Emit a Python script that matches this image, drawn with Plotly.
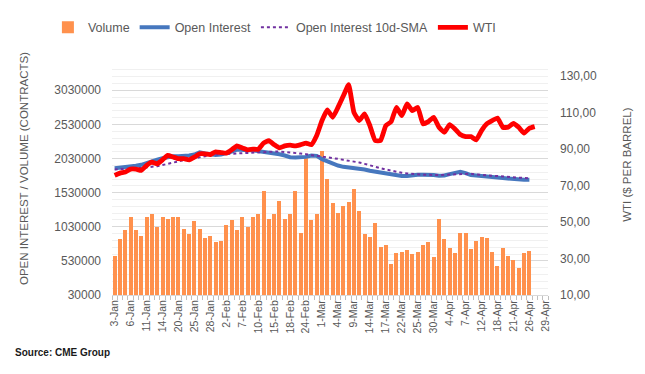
import plotly.graph_objects as go

dates = (
    [f"{d}-Jan" for d in [3, 4, 5, 6, 7, 10, 11, 12, 13, 14, 18, 19, 20, 21, 24, 25, 26, 27, 28, 31]]
    + [f"{d}-Feb" for d in [1, 2, 3, 4, 7, 8, 9, 10, 11, 14, 15, 16, 17, 18, 22, 23, 24, 25, 28]]
    + [f"{d}-Mar" for d in [1, 2, 3, 4, 7, 8, 9, 10, 11, 14, 15, 16, 17, 18, 21, 22, 23, 24, 25, 28, 29, 30, 31]]
    + [f"{d}-Apr" for d in [1, 4, 5, 6, 7, 8, 11, 12, 13, 14, 18, 19, 20, 21, 22, 25, 26, 27, 28, 29]]
)

volume_k = [598, 845, 976, 1166, 976, 889, 1166, 1210, 1030, 1166,
            1146, 1166, 1180, 991, 918, 1108, 1001, 870, 889, 802,
            816, 1049, 1122, 976, 1180, 1030, 1166, 1224, 1559, 1151,
            1210, 1413, 1137, 1224, 1559, 933, 2054, 1122, 1224, 2141,
            1734, 1384, 1239, 1341, 1399, 1588, 1268, 918, 875, 1078,
            729, 758, 481, 642, 656, 685, 627, 656, 758, 802,
            583, 1137, 845, 714, 642, 933, 933, 700, 816, 875,
            860, 656, 452, 714, 598, 540, 423, 642, 671]

open_interest_k = [1889, 1894, 1904, 1918, 1923, 1938, 1967, 1996, 2015, 2035,
                   2054, 2064, 2064, 2064, 2074, 2088, 2122, 2103, 2093, 2083,
                   2088, 2103, 2132, 2161, 2151, 2151, 2151, 2142, 2132, 2117,
                   2103, 2093, 2074, 2049, 2044, 2044, 2054, 2074, 2069, 2020,
                   1986, 1950, 1928, 1908, 1899, 1879, 1884, 1870, 1850, 1836,
                   1821, 1802, 1787, 1777, 1773, 1773, 1787, 1792, 1792, 1792,
                   1787, 1777, 1782, 1802, 1821, 1836, 1816, 1787, 1782, 1777,
                   1773, 1763, 1753, 1743, 1734, 1724, 1719, 1719, 1719]

oi_sma_k = [1870, 1872, 1876, 1882, 1888, 1893, 1898, 1905, 1918, 1935,
            1955, 1972, 1992, 2006, 2018, 2035, 2052, 2066, 2078, 2088,
            2093, 2098, 2103, 2108, 2112, 2117, 2122, 2127, 2132, 2132,
            2132, 2132, 2127, 2122, 2112, 2103, 2093, 2083, 2074, 2064,
            2054, 2040, 2025, 2011, 2001, 1986, 1972, 1952, 1928, 1908,
            1889, 1870, 1850, 1836, 1821, 1812, 1802, 1797, 1792, 1792,
            1787, 1787, 1792, 1797, 1802, 1807, 1812, 1807, 1797, 1787,
            1782, 1777, 1773, 1768, 1763, 1758, 1748, 1743, 1739]

wti = [75.5, 76.7, 77.3, 78.9, 78.9, 78.2, 80.9, 82.7, 81.8, 84.0,
       86.4, 85.5, 84.6, 84.6, 84.0, 85.5, 87.3, 87.3, 86.9, 88.4,
       88.0, 87.7, 89.5, 91.6, 90.5, 89.5, 89.8, 89.8, 93.1, 94.5,
       92.3, 90.5, 91.6, 92.0, 91.6, 92.3, 93.1, 92.3, 97.3, 105.5,
       111.3, 107.3, 112.7, 118.9, 125.1, 110.0, 105.5, 109.1, 102.7, 94.5,
       94.5, 102.7, 104.9, 112.7, 108.2, 114.6, 110.9, 112.7, 103.7, 104.9,
       107.3, 101.8, 99.1, 103.3, 100.9, 97.8, 96.7, 96.7, 94.9, 100.0,
       103.7, 105.5, 106.9, 101.8, 101.8, 104.0, 101.8, 98.6, 101.3, 102.2]

left_ticks = [30000, 530000, 1030000, 1530000, 2030000, 2530000, 3030000]
right_ticks = [10, 30, 50, 70, 90, 110, 130]

idx = list(range(len(dates)))
volume = [v * 1000 for v in volume_k]
open_interest = [v * 1000 for v in open_interest_k]
oi_sma = [v * 1000 for v in oi_sma_k]

GRAY = "#595959"
FONT = "Liberation Sans"

fig = go.Figure()
fig.add_trace(go.Bar(x=idx[:len(volume)], y=volume, name="Volume",
                     marker=dict(color="#FF914D", line=dict(width=0)), width=0.75))
fig.add_trace(go.Scatter(x=idx[:len(open_interest)], y=open_interest, name="Open Interest",
                         mode="lines", line=dict(color="#4677BE", width=4)))
fig.add_trace(go.Scatter(x=idx[:len(oi_sma)], y=oi_sma, name="Open Interest 10d-SMA",
                         mode="lines", line=dict(color="#7030A0", width=2, dash="dot")))
fig.add_trace(go.Scatter(x=idx[:len(wti)], y=wti, name="WTI", yaxis="y2",
                         mode="lines", line=dict(color="#FF0000", width=4.8, shape="spline", smoothing=0.4)))

# the page body adds an 8px offset, so the figure is 8px smaller than the window
fig.update_layout(
    width=637, height=366,
    margin=dict(l=104, r=97, t=55, b=79, autoexpand=False),
    paper_bgcolor="white", plot_bgcolor="white",
    font=dict(family=FONT, color=GRAY, size=12),
    separators=",.",
    bargap=0,
    showlegend=True,
    legend=dict(orientation="h", x=-0.147, xanchor="left", y=1.152, yanchor="middle",
                font=dict(size=12.5, color=GRAY), bgcolor="rgba(0,0,0,0)",
                traceorder="normal"),
    xaxis=dict(
        range=[-0.5, len(dates) - 0.5],
        tickmode="array", tickvals=idx[::3], ticktext=dates[::3],
        tickangle=-90, tickfont=dict(size=10.5, color=GRAY),
        ticks="", showgrid=False, zeroline=False,
        showline=True, linecolor="#d9d9d9", linewidth=1,
        minor=dict(tickmode="linear", tick0=-0.5, dtick=1, ticks="outside",
                   ticklen=4, tickcolor="#bfbfbf", showgrid=False),
    ),
    yaxis=dict(
        range=[30000, 3430000],
        tickmode="array", tickvals=left_ticks, ticktext=[str(t) for t in left_ticks],
        tickfont=dict(size=12, color=GRAY),
        ticks="", ticklabelstandoff=10,
        showgrid=True, gridcolor="#d9d9d9", gridwidth=1, zeroline=False,
        minor=dict(tickmode="linear", tick0=30000, dtick=100000, showgrid=True,
                   gridcolor="#f0f0f0", gridwidth=1, ticks=""),
    ),
    yaxis2=dict(
        range=[10, 137], overlaying="y", side="right",
        tickmode="array", tickvals=right_ticks,
        ticktext=[f"{t},00" for t in right_ticks],
        tickfont=dict(size=12, color=GRAY),
        ticks="", ticklabelstandoff=11,
        showgrid=False, zeroline=False,
    ),
    annotations=[
        dict(text="OPEN INTEREST / VOLUME (CONTRACTS)", xref="paper", yref="paper",
             x=-0.202, y=0.547, textangle=-90, showarrow=False,
             font=dict(size=11.5, color=GRAY, family=FONT), xanchor="center", yanchor="middle"),
        dict(text="WTI ($ PER BARREL)", xref="paper", yref="paper",
             x=1.181, y=0.565, textangle=-90, showarrow=False,
             font=dict(size=11.5, color=GRAY, family=FONT), xanchor="center", yanchor="middle"),
        dict(text="<b>Source: CME Group</b>", xref="paper", yref="paper",
             x=-0.227, y=-0.246, showarrow=False, xanchor="left", yanchor="middle",
             font=dict(size=10, color="#1a1a1a", family=FONT)),
    ],
)

fig.write_html("out.html")
